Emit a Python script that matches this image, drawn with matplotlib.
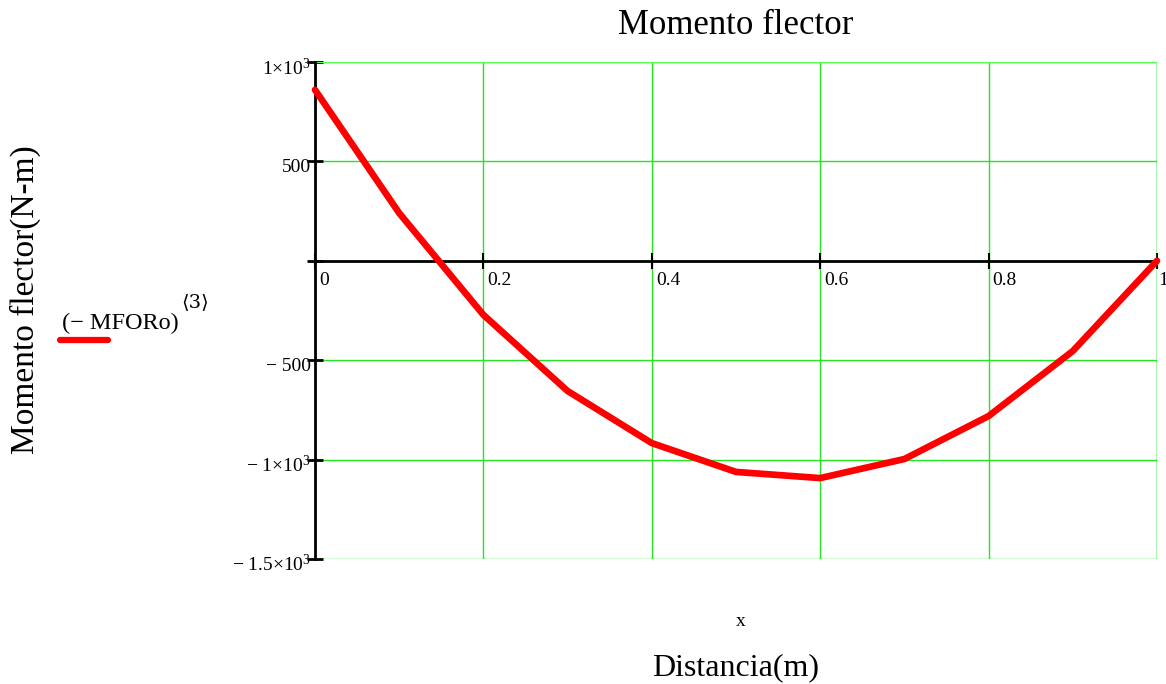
import matplotlib.pyplot as plt
import matplotlib.transforms as mtransforms

# bending moment along the beam (Mathcad style chart)
x = [0.0, 0.1, 0.2, 0.3, 0.4, 0.5, 0.6, 0.7, 0.8, 0.9, 1.0]
moment = [860, 240, -272, -655, -917, -1062, -1093, -997, -781, -454, 0]

x_ticks = [0, 0.2, 0.4, 0.6, 0.8, 1.0]
x_labels = ["0", "0.2", "0.4", "0.6", "0.8", "1"]
y_ticks = [1000, 500, 0, -500, -1000, -1500]
y_labels = ["1×10$^{3}$", "500", "", "− 500", "− 1×10$^{3}$",
            "− 1.5×10$^{3}$"]

serif = ["Liberation Serif", "DejaVu Serif"]
plt.rcParams["font.family"] = serif
plt.rcParams["mathtext.fontset"] = "custom"
plt.rcParams["mathtext.rm"] = "Liberation Serif"
plt.rcParams["mathtext.it"] = "Liberation Serif"

fig = plt.figure(figsize=(11.66, 6.84), dpi=100)
ax = fig.add_axes([315 / 1166, 1 - 559 / 684, 842 / 1166, 497 / 684])

ax.set_xlim(0, 1)
ax.set_ylim(-1500, 1000)

ax.plot(x, moment, color="red", lw=4.8, solid_capstyle="round", zorder=5,
        clip_on=False)

# grid
ax.set_xticks(x_ticks)
ax.set_yticks(y_ticks)
ax.grid(True, color="#22e622", lw=1)
ax.axhline(1000, color="#55ff55", lw=1.5)
ax.axvline(1.0, color="#22e622", lw=1)

for s in ["top", "right"]:
    ax.spines[s].set_visible(False)
ax.spines["left"].set_linewidth(2)
ax.spines["bottom"].set_position(("data", 0))
ax.spines["bottom"].set_linewidth(2)
ax.spines["bottom"].set_zorder(4)

ax.tick_params(axis="y", direction="inout", length=12, width=2, pad=-3,
               labelsize=14)
ax.tick_params(axis="x", direction="inout", length=12, width=1.5, pad=2,
               labelsize=14)
ax.set_yticklabels(y_labels)
ax.set_xticklabels(x_labels)

xlabs = ax.get_xticklabels()
for i, lab in enumerate(xlabs):
    shift = 1 if i == len(xlabs) - 1 else 4
    off = mtransforms.ScaledTranslation(shift / 100, 0, fig.dpi_scale_trans)
    lab.set_horizontalalignment("left")
    lab.set_transform(lab.get_transform() + off)
yoff = mtransforms.ScaledTranslation(0, -4 / 100, fig.dpi_scale_trans)
for lab in ax.get_yticklabels():
    lab.set_transform(lab.get_transform() + yoff)

# texts
fig.text(736 / 1166, 1 - 25 / 684, "Momento flector", ha="center",
         va="center", fontsize=25)
fig.text(741 / 1166, 1 - 622 / 684, "x", ha="center", va="center",
         fontsize=14)
fig.text(736 / 1166, 1 - 668 / 684, "Distancia(m)", ha="center",
         va="center", fontsize=23)
fig.text(25 / 1166, 1 - 300 / 684, "Momento flector(N-m)", rotation=90,
         ha="center", va="center", fontsize=24)

# legend
fig.text(62 / 1166, 1 - 323 / 684, "(− MFORo)", ha="left", va="center",
         fontsize=17.5)
fig.text(181 / 1166, 1 - 302 / 684, "⟨3⟩", ha="left", va="center",
         fontsize=14, family=["DejaVu Serif", "Liberation Serif"])
fig.add_artist(plt.Line2D([60 / 1166, 108 / 1166], [1 - 340 / 684] * 2,
                          color="red", lw=4.5, solid_capstyle="round",
                          transform=fig.transFigure))

fig.savefig("out.png", dpi=100)
